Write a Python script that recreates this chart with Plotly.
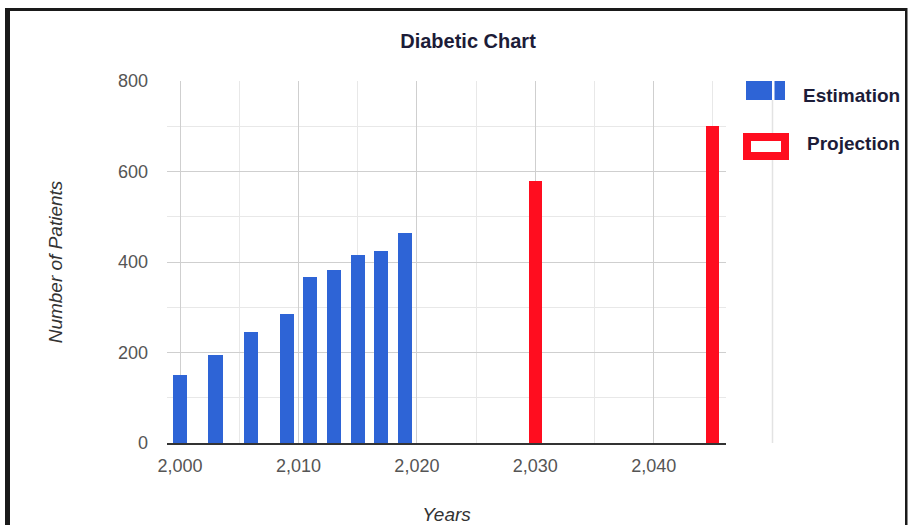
import plotly.graph_objects as go

# ---- data ----
est_years = [2000, 2003, 2006, 2009, 2011, 2013, 2015, 2017, 2019]
est_values = [151, 194, 246, 285, 366, 382, 415, 425, 463]
proj_years = [2030, 2045]
proj_values = [578, 700]
y_ticks = [0, 200, 400, 600, 800]
x_ticks = [2000, 2010, 2020, 2030, 2040]

BLUE = "#2e64d6"
RED = "#ff0d1f"
FONT = "Liberation Sans, Arial, sans-serif"

W, H = 909, 525
PL, PR, PT, PB = 167, 726, 81, 443  # plot area in pixels


def px(x):
    return (x - PL) / (PR - PL)


def py(y):
    return (PB - y) / (PB - PT)


fig = go.Figure()
fig.add_trace(go.Bar(x=est_years, y=est_values, width=1.2, name="Estimation",
                     marker=dict(color=BLUE, line=dict(width=0)), showlegend=False))
fig.add_trace(go.Bar(x=proj_years, y=proj_values, width=1.1, name="Projection",
                     marker=dict(color=RED, line=dict(width=0)), showlegend=False))

shapes = []
# faint stray gridline beyond the plot (2050)
shapes.append(dict(type="line", xref="paper", yref="paper", x0=px(772.5), x1=px(772.5),
                   y0=0, y1=py(100), line=dict(color="#e3e3e3", width=1.5), layer="below"))
# legend symbols
shapes.append(dict(type="rect", xref="paper", yref="paper", x0=px(746), x1=px(785),
                   y0=py(100), y1=py(81), fillcolor=BLUE, line=dict(width=0)))
shapes.append(dict(type="rect", xref="paper", yref="paper", x0=px(772), x1=px(774.5),
                   y0=py(100), y1=py(81), fillcolor="white", line=dict(width=0)))
shapes.append(dict(type="rect", xref="paper", yref="paper", x0=px(747), x1=px(785),
                   y0=py(156), y1=py(137), fillcolor="white", line=dict(color=RED, width=8)))
# outer frame
shapes.append(dict(type="rect", xref="paper", yref="paper", x0=px(5), x1=px(10),
                   y0=py(525), y1=py(8), fillcolor="#1a1a1a", line=dict(width=0)))
shapes.append(dict(type="rect", xref="paper", yref="paper", x0=px(5), x1=px(907),
                   y0=py(11), y1=py(8), fillcolor="#1a1a1a", line=dict(width=0)))
shapes.append(dict(type="rect", xref="paper", yref="paper", x0=px(905), x1=px(907.5),
                   y0=py(525), y1=py(8), fillcolor="#1a1a1a", line=dict(width=0)))

annotations = [
    dict(text="<b>Estimation</b>", xref="paper", yref="paper", x=px(801), y=py(95),
         xanchor="left", yanchor="middle", showarrow=False,
         font=dict(family=FONT, size=19, color="#1c1c38")),
    dict(text="<b>Projection</b>", xref="paper", yref="paper", x=px(805), y=py(143),
         xanchor="left", yanchor="middle", showarrow=False,
         font=dict(family=FONT, size=19, color="#1c1c38")),
]

fig.update_layout(
    width=W, height=H,
    margin=dict(l=PL, r=W - PR, t=PT, b=H - PB, pad=0, autoexpand=False),
    paper_bgcolor="white", plot_bgcolor="white",
    title=dict(text="<b>Diabetic Chart</b>", xref="container", yref="container",
               x=468 / W, y=1 - 41 / H, xanchor="center", yanchor="middle",
               font=dict(family=FONT, size=20, color="#1c1c38")),
    showlegend=False,
    bargap=0,
    shapes=shapes,
    annotations=annotations,
    font=dict(family=FONT),
)

fig.update_xaxes(
    automargin=False,
    range=[1998.9, 2046.1],
    tickvals=x_ticks, tickformat=",d",
    showgrid=True, gridcolor="#cfcfcf", gridwidth=1,
    minor=dict(dtick=5, tick0=2000, showgrid=True, gridcolor="#e8e8e8", gridwidth=1),
    showline=True, linecolor="#333333", linewidth=2,
    zeroline=False, ticks="", ticklabelstandoff=5,
    tickfont=dict(family=FONT, size=18, color="#555555"),
    title=dict(text="<i>Years</i>", standoff=38,
               font=dict(family=FONT, size=19, color="#333333")),
)
fig.update_yaxes(
    automargin=False,
    range=[0, 800],
    tickvals=y_ticks,
    showgrid=True, gridcolor="#cfcfcf", gridwidth=1,
    minor=dict(dtick=100, tick0=0, showgrid=True, gridcolor="#e8e8e8", gridwidth=1),
    showline=False, zeroline=False, ticks="", ticklabelstandoff=18,
    tickfont=dict(family=FONT, size=18, color="#555555"),
    title=dict(text="<i>Number of Patients</i>", standoff=50,
               font=dict(family=FONT, size=19, color="#333333")),
)

fig.write_html(
    "out.html",
    config={"displayModeBar": False},
    post_script="document.body.style.margin='0';document.body.style.overflow='hidden';",
)
